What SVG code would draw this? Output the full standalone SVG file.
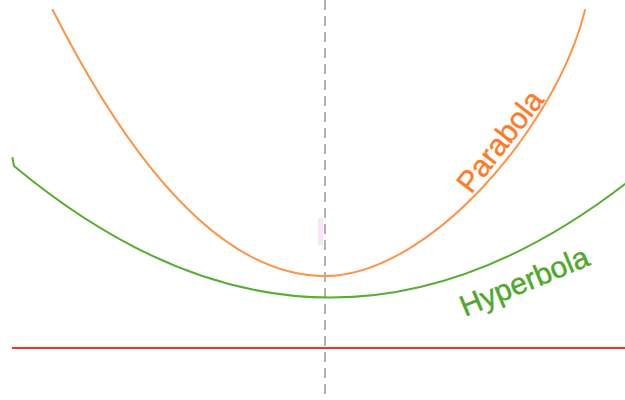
<svg xmlns="http://www.w3.org/2000/svg" width="625" height="400" viewBox="0 0 625 400">
<style>
.curve{fill:none;stroke-width:2;stroke-linecap:round}
.lbl{font-family:"Liberation Sans",Arial,sans-serif;font-size:30px;stroke-width:0.4}
</style>
<rect width="625" height="400" fill="#ffffff"/>
<g id="focus"><rect x="318" y="218" width="5" height="27" fill="#fce4f8"/></g>
<g id="connectors">
<line id="axis" x1="325" y1="0" x2="325" y2="400" stroke="#9a9a9a" stroke-width="1.5" stroke-dasharray="10,6"/>
<line id="directrix" x1="12" y1="348" x2="625" y2="348" stroke="#ff2a2a" stroke-width="2"/>
</g>
<g id="parabola">
<path class="curve" stroke="#ff9448" d="M52.7,10 C144,190 235,276 325,276 C428,276 556,128 585,10"/>
<text class="lbl" fill="#ff7a26" stroke="#ff7a26" transform="translate(471,195) rotate(-52)">Parabola</text>
</g>
<g id="hyperbola">
<path class="curve" stroke="#5aad34" d="M12.5,158 L14,166 Q319,419.7 625,184"/>
<text class="lbl" fill="#4fa82a" stroke="#4fa82a" transform="translate(465,317) rotate(-22.5)">Hyperbola</text>
</g>
</svg>
